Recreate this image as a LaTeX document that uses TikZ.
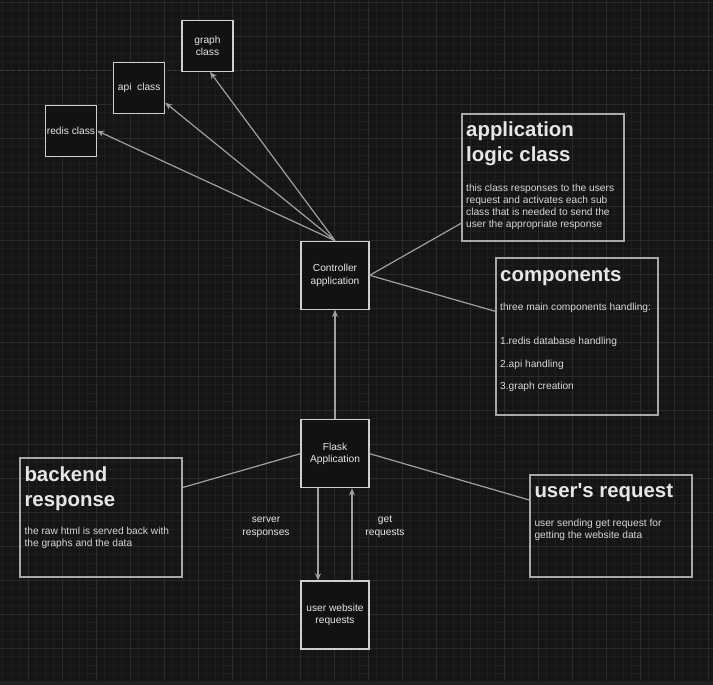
\documentclass[tikz,border=0pt]{standalone}
\usepackage{fontspec}
\setmainfont{Liberation Sans}
\usetikzlibrary{arrows.meta}
\definecolor{bgcol}{HTML}{151515}
\definecolor{stripcol}{HTML}{1F1F1F}
\definecolor{minorcol}{HTML}{1E1E1E}
\definecolor{majorcol}{HTML}{2A2A2A}
\definecolor{pagecol}{HTML}{3C3C3C}
\definecolor{boxfill}{HTML}{121212}
\definecolor{boxline}{HTML}{CFCFCF}
\definecolor{noteline}{HTML}{A8A8A8}
\definecolor{edgecol}{HTML}{A0A0A0}
\definecolor{txt}{HTML}{E6E6E6}
\definecolor{txtb}{HTML}{D6D6D6}
\newcommand\topstrut[1]{\rule{0pt}{#1}}
\tikzset{
  cls/.style={draw=boxline, fill=boxfill, line width=1.3pt, inner sep=0pt,
    font=\fontsize{10.2}{12.5}\selectfont, text=txt, align=center},
  smallbox/.style={cls, minimum width=51pt, minimum height=51pt},
  mainbox/.style={cls, minimum width=68pt, minimum height=68pt},
  notebox/.style={draw=noteline, line width=1.3pt, inner sep=0pt},
  headtxt/.style={anchor=north west, inner sep=0pt, align=left, text=txt,
    font=\bfseries\fontsize{20.4}{25}\selectfont},
  bodytxt/.style={anchor=north west, inner sep=0pt, align=left, text=txtb,
    font=\fontsize{10.2}{12}\selectfont},
  edge/.style={draw=edgecol, line width=1.2pt},
  arr/.style={edge, -{Stealth[length=7pt,width=6pt]}},
  lbl/.style={text=txt, font=\fontsize{10.2}{12.5}\selectfont, align=center, inner sep=0pt},
  minorgrid/.style={draw=minorcol, line width=0.8pt},
  majorgrid/.style={draw=majorcol, line width=0.9pt}
}
\begin{document}
\begin{tikzpicture}[x=1pt,y=-1pt]
\useasboundingbox (0,0) rectangle (713,685);
\fill[bgcol] (0,0) rectangle (713,685);
\fill[stripcol] (0,681) rectangle (713,685);
% grid
\foreach \i in {0,...,83} {\draw[minorgrid] ({2.5+8.5*\i},0) -- ({2.5+8.5*\i},681);}
\foreach \i in {0,...,79} {\draw[minorgrid] (0,{2+8.5*\i}) -- (713,{2+8.5*\i});}
\foreach \i in {0,...,20} {\draw[majorgrid] ({28+34*\i},0) -- ({28+34*\i},681);}
\foreach \i in {0,...,19} {\draw[majorgrid] (0,{2+34*\i}) -- (713,{2+34*\i});}
% page break line
\draw[pagecol, line width=0.9pt, dash pattern=on 3pt off 3pt] (0,70.5) -- (713,70.5);

% class boxes
\node[smallbox] (graph) at (207.5,45.8) {graph\\class};
\node[smallbox] (api) at (139.2,88.3) {api\ \ class};
\node[smallbox] (redis) at (71,130.8) {redis class};
\node[mainbox] (ctrl) at (335,275.3) {Controller\\application};
\node[mainbox] (flask) at (335,453.7) {Flask\\Application};
\node[mainbox] (uweb) at (335,615) {user website\\requests};

% note boxes
\node[notebox, minimum width=162pt, minimum height=127pt] (logic) at (543,177.5) {};
\node[notebox, minimum width=162pt, minimum height=157pt] (comp) at (577,336.5) {};
\node[notebox, minimum width=162pt, minimum height=119pt] (backend) at (101,517.5) {};
\node[notebox, minimum width=162pt, minimum height=102pt] (ureq) at (611,526) {};

\node[headtxt] (logich) at (466,121.7) {\topstrut{15pt}application\\logic class};
\node[bodytxt] (logicb) at (466,183) {\topstrut{8pt}this class responses to the users\\request and activates each sub\\class that is needed to send the\\user the appropriate response};
\node[headtxt] (comph) at (500,266.7) {\topstrut{15pt}components};
\node[bodytxt] (compb) at (500,302.7) {\topstrut{8pt}three main components handling:\\[21.6pt]1.redis database handling\\[11pt]2.api handling\\[10pt]3.graph creation};
\node[headtxt] (backh) at (24.3,466) {\topstrut{15pt}backend\\response};
\node[bodytxt] (backb) at (24.3,526.7) {\topstrut{8pt}the raw html is served back with\\the graphs and the data};
\node[headtxt] (ureqh) at (534.3,482.7) {\topstrut{15pt}user\textquotesingle s request};
\node[bodytxt] (ureqb) at (534.3,518.7) {\topstrut{8pt}user sending get request for\\getting the website data};

% labels
\node[lbl] (srv) at (266,527.5) {server\\responses};
\node[lbl] (getr) at (385,527) {get\\requests};

% connectors
\draw[arr] (ctrl.north) -- (redis.east);
\draw[arr] (ctrl.north) -- ([yshift=-14.5pt]api.east);
\draw[arr] (ctrl.north) -- ([xshift=2.5pt]graph.south);
\draw[edge] (ctrl.east) -- ([yshift=18.5pt]logic.south west);
\draw[edge] (ctrl.east) -- ([yshift=-54pt]comp.north west);
\draw[arr] (flask.north) -- (ctrl.south);
\draw[edge] (flask.west) -- ([yshift=30pt]backend.east);
\draw[edge] (flask.east) -- ([yshift=26pt]ureq.west);
\draw[arr] ([xshift=-17pt]flask.south) -- ([xshift=-17pt]uweb.north);
\draw[arr] ([xshift=17pt]uweb.north) -- ([xshift=17pt]flask.south);
\end{tikzpicture}
\end{document}
